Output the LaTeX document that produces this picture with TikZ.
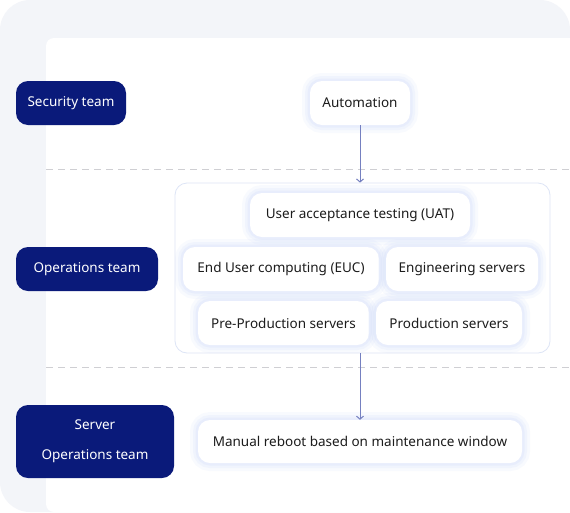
\documentclass[tikz,border=0pt]{standalone}
\usepackage{fontspec}
\setmainfont{Noto Sans}
\usetikzlibrary{arrows.meta}
\definecolor{navy}{HTML}{0A1A7A}
\definecolor{bgout}{HTML}{F3F5F9}
\definecolor{arrowc}{HTML}{7580C0}
\definecolor{grpline}{HTML}{DDE5F6}
\definecolor{dashc}{HTML}{CFCFD3}
\definecolor{txt}{HTML}{1C1C1C}
\definecolor{glow}{HTML}{C4D2FA}
\tikzset{
  base/.style={rounded corners=12pt, align=center, inner sep=0pt,
    font=\fontsize{13.5}{30}\selectfont, minimum height=44pt},
  team/.style={base, fill=navy, text=white},
  task/.style={base, fill=white, text=txt,
    preaction={draw=glow, line width=16pt, draw opacity=0.10},
    preaction={draw=glow, line width=10pt, draw opacity=0.14},
    preaction={draw=glow, line width=5pt, draw opacity=0.18}},
  grp/.style={draw=grpline, line width=0.8pt, fill=white, rounded corners=12pt, inner sep=0pt},
  flow/.style={draw=arrowc, line width=1pt, -{Straight Barb[length=3pt,width=7pt]}},
  sep/.style={draw=dashc, line width=0.8pt, dash pattern=on 7pt off 5pt}
}
\begin{document}
\begin{tikzpicture}[x=1pt,y=-1pt]
\useasboundingbox (0,0) rectangle (570,512);
\fill[white] (0,0) rectangle (570,512);
\fill[bgout, rounded corners=30pt] (0,0) rectangle (570,512);
\fill[white, rounded corners=8pt] (46,38) -- (570,38) -- (570,512) -- (46,512) -- cycle;
\fill[white] (60,38) rectangle (570,512);

\draw[sep] (46,169) -- (570,169);
\draw[sep] (46,367) -- (570,367);

\node[grp, minimum width=375pt, minimum height=170pt] (group) at (362.5,268) {};

\node[team, minimum width=110pt] (sec) at (71,103) {Security team};
\node[task, minimum width=100pt] (auto) at (360,103) {Automation};

\node[team, minimum width=142pt] (ops) at (87,269) {Operations team};
\node[task, minimum width=220pt] (uat) at (360,215) {User acceptance testing (UAT)};
\node[task, minimum width=196pt] (euc) at (281,269) {End User computing (EUC)};
\node[task, minimum width=152pt] (eng) at (462,269) {Engineering servers};
\node[task, minimum width=171pt] (pre) at (283.5,323) {Pre-Production servers};
\node[task, minimum width=146pt] (prod) at (449,323) {Production servers};

\node[team, minimum width=158pt, minimum height=73pt] (srv) at (95,441.5) {Server\\[0pt]Operations team};
\node[task, minimum width=324pt, minimum height=43pt] (man) at (360,441.5) {Manual reboot based on maintenance window};

\draw[flow] (auto.south) -- (auto.south |- group.north);
\draw[flow] (man.north |- group.south) -- (man.north);
\end{tikzpicture}
\end{document}
